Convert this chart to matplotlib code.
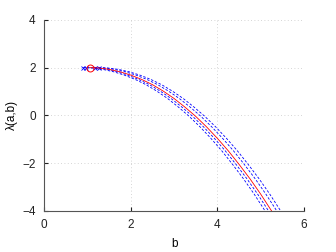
import matplotlib
matplotlib.use("Agg")
import matplotlib.pyplot as plt

plt.rcParams['font.family'] = ['Liberation Sans', 'DejaVu Sans']

# red curve, points
b_red = [1.05, 1.25, 1.5, 1.75, 2.0, 2.25, 2.5, 2.75, 3.0, 3.25, 3.5,
         3.75, 4.0, 4.25, 4.5, 4.75, 5.0, 5.25, 5.5]
lam_red = [2.00, 1.99, 1.93, 1.83, 1.69, 1.51, 1.29, 1.02, 0.71, 0.35, -0.04,
           -0.48, -0.96, -1.48, -2.05, -2.65, -3.30, -4.00, -4.73]

# blue dashed curves: b offsets read at the same lambda levels
b_shift = [-0.15, -0.07, 0.12, 0.21]

xticks = [0, 2, 4, 6]
yticks = [-4, -2, 0, 2, 4]

fig = plt.figure(figsize=(3.36, 2.52), dpi=100)
ax = fig.add_axes([0.131, 0.163, 0.774, 0.758])

for s in b_shift:
    bb = [b + s for b in b_red]
    ax.plot(bb, lam_red, '--', color='#0000ff', lw=0.6, dashes=(3, 2))
    ax.plot(bb[0], lam_red[0], 'x', color='#0000ff', ms=3.5, mew=0.6)
ax.plot(b_red, lam_red, '-', color='#ff0000', lw=0.6)
ax.plot(b_red[0], lam_red[0], 'o', color='#ff0000', mfc='none', ms=5, mew=0.7)

ax.set_xlim(0, 6)
ax.set_ylim(-4, 4)
ax.set_xticks(xticks)
ax.set_yticks(yticks)
ax.grid(True, linestyle=(0, (1, 3)), color='#c8c8c8', lw=0.6)
ax.spines['top'].set_visible(False)
ax.spines['right'].set_visible(False)
for s in ['left', 'bottom']:
    ax.spines[s].set_color('#555555')
    ax.spines[s].set_linewidth(0.8)
ax.tick_params(direction='in', length=3, labelsize=8.5, colors='#222222', pad=6)
ax.set_xlabel('b', fontsize=8.5, labelpad=5)
ax.set_ylabel('λ(a,b)', fontsize=8.5, labelpad=3)

fig.savefig('out.png', dpi=100)
